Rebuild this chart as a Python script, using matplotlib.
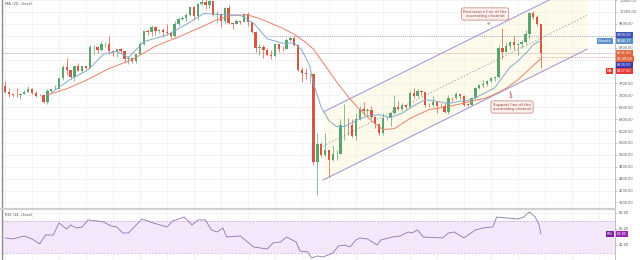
import numpy as np
import matplotlib.pyplot as plt
from matplotlib.lines import Line2D

# BTC daily candles, 23 Dec 2019 .. 10 May 2020
opens = [7520, 7322, 7255, 7204, 7202, 7254, 7317, 7422, 7293, 7194,
         7202, 6985, 7345, 7410, 7411, 7769, 8163, 8045, 7818, 8197,
         8020, 8185, 8110, 8810, 8821, 8720, 8913, 8916, 8701, 8658,
         8745, 8680, 8406, 8445, 8367, 8596, 8909, 9358, 9316, 9508,
         9350, 9392, 9344, 9293, 9180, 9613, 9758, 9804, 9895, 10152,
         9852, 10268, 10351, 10245, 10365, 9906, 9935, 9690, 10141, 9633,
         9608, 9687, 9664, 9925, 9651, 9316, 8786, 8807, 8710, 8564,
         8531, 8916, 8761, 8752, 9062, 9122, 8905, 8034, 7936, 7910,
         7912, 4970, 5563, 5201, 5361, 5015, 5226, 5239, 6191, 6198,
         6185, 5830, 6416, 6735, 6681, 6716, 6469, 6242, 5922, 6430,
         6438, 6606, 6793, 6733, 6867, 6791, 7271, 7176, 7335, 7302,
         6865, 6859, 6971, 6845, 6842, 6642, 7116, 7096, 7257, 7189,
         6881, 6880, 7117, 7429, 7550, 7569, 7679, 7795, 7807, 8801,
         8658, 8864, 8989, 8897, 8912, 9003, 9268, 9952, 9843, 9593]
highs = [7696, 7436, 7272, 7435, 7275, 7365, 7513, 7454, 7335, 7255,
         7212, 7413, 7428, 7544, 7782, 8207, 8455, 8062, 8200, 8286,
         8185, 8197, 8880, 8900, 8846, 9010, 9000, 9188, 8721, 8760,
         8790, 8685, 8516, 8450, 8600, 8980, 9370, 9420, 9560, 9520,
         9440, 9470, 9600, 9340, 9700, 9830, 9880, 9950, 10160, 10190,
         10300, 10440, 10500, 10390, 10380, 10050, 9960, 10170, 10250, 9650,
         9770, 9700, 9960, 9990, 9660, 9370, 8930, 8890, 8790, 8720,
         8940, 8930, 8850, 9140, 9170, 9190, 8910, 8150, 8130, 7940,
         7960, 5920, 5640, 5920, 5370, 5530, 5350, 6390, 6900, 6430,
         6390, 6590, 6830, 6970, 6770, 6840, 6500, 6260, 6600, 6520,
         6640, 7200, 7000, 6930, 6880, 7350, 7460, 7420, 7370, 7310,
         6950, 7190, 6980, 6940, 6930, 7200, 7150, 7300, 7260, 7220,
         6940, 7150, 7490, 7570, 7700, 7700, 7800, 7850, 8900, 9460,
         9000, 9010, 9190, 8950, 9060, 9400, 9990, 10040, 9910, 9600]
lows = [7267, 7157, 7129, 7153, 7072, 7238, 7303, 7255, 7140, 7175,
        6935, 6915, 7300, 7400, 7400, 7724, 7870, 7750, 7675, 8000,
        7968, 8079, 8105, 8580, 8612, 8682, 8810, 8576, 8520, 8490,
        8630, 8300, 8240, 8300, 8300, 8585, 8890, 9240, 9200, 9230,
        9310, 9150, 9230, 9110, 9170, 9540, 9730, 9690, 9880, 9740,
        9720, 10230, 10090, 10140, 9870, 9650, 9480, 9620, 9600, 9430,
        9580, 9590, 9650, 9540, 9280, 8660, 8540, 8450, 8550, 8420,
        8500, 8660, 8700, 8750, 9010, 8870, 8000, 7660, 7760, 7600,
        4860, 3850, 5120, 5170, 4450, 5000, 5030, 5230, 5700, 5860,
        5790, 5700, 6380, 6540, 6530, 6420, 6090, 5880, 5860, 6380,
        6160, 6580, 6690, 6680, 6700, 6780, 7120, 7150, 7210, 6790,
        6790, 6810, 6620, 6800, 6620, 6560, 7020, 7080, 7060, 6840,
        6830, 6860, 7030, 7410, 7470, 7500, 7660, 7690, 7780, 8420,
        8640, 8770, 8720, 8540, 8780, 8940, 9100, 9760, 9520, 8117]
closes = [7322, 7255, 7204, 7202, 7254, 7317, 7422, 7293, 7193, 7200,
          6985, 7345, 7410, 7411, 7769, 8163, 8045, 7818, 8197, 8020,
          8185, 8110, 8810, 8821, 8720, 8913, 8916, 8701, 8658, 8745,
          8680, 8406, 8445, 8367, 8596, 8909, 9358, 9316, 9508, 9350,
          9392, 9344, 9293, 9180, 9613, 9758, 9804, 9895, 10152, 9852,
          10268, 10351, 10245, 10365, 9906, 9935, 9690, 10141, 9633, 9608,
          9687, 9664, 9925, 9651, 9316, 8786, 8807, 8710, 8564, 8531,
          8916, 8761, 8752, 9062, 9122, 8905, 8034, 7936, 7910, 7912,
          4970, 5563, 5201, 5361, 5015, 5226, 5239, 6191, 6198, 6185,
          5830, 6416, 6735, 6681, 6716, 6469, 6242, 5922, 6430, 6438,
          6606, 6793, 6733, 6867, 6791, 7271, 7176, 7335, 7302, 6865,
          6859, 6971, 6845, 6842, 6642, 7116, 7096, 7257, 7189, 6881,
          6880, 7117, 7429, 7550, 7569, 7679, 7795, 7807, 8801, 8658,
          8864, 8989, 8897, 8912, 9003, 9268, 9952, 9843, 9593, 8631]

# MA(20) line, read at candle index
ma_idx = [11, 16, 21, 27, 33, 39, 45, 51, 55, 59, 63, 66, 69, 72, 75, 78, 80,
          83, 86, 89, 92, 95, 98, 101, 105, 110, 115, 120, 125, 128, 130,
          133, 135, 137, 139]
ma_val = [7210, 7420, 7700, 8100, 8400, 8850, 9160, 9500, 9740, 9890, 9900,
          9780, 9620, 9450, 9250, 8980, 8750, 8200, 7650, 7150, 6720, 6350,
          6050, 6080, 6420, 6720, 6820, 6970, 7120, 7300, 7440, 7720, 7960,
          8200, 8437.80]

# Chande line
ch_idx = [12, 16.5, 21.5, 25.5, 29, 32, 36, 42, 47.5, 51.5, 56, 61, 64.5, 68,
          72, 75, 77, 79, 80, 82, 84, 86, 88, 91, 94, 97, 100, 103, 106, 109,
          112, 115, 118, 121, 124, 127, 129, 131, 133, 135, 137, 139]
ch_val = [7280, 7700, 8050, 8580, 8680, 8470, 9000, 9230, 9620, 9950, 9920,
          9890, 9620, 9100, 8950, 8960, 8720, 8200, 7600, 6800, 6350, 6150,
          6150, 6350, 6500, 6550, 6450, 6600, 6850, 7050, 7000, 6920, 7000,
          7050, 7250, 7450, 7800, 8150, 8350, 8600, 8900, 9048.17]

# RSI(14)
rsi_idx = [0, 2, 5, 7, 9, 10.5, 12.5, 14, 16, 17, 18.5, 20, 21.5, 24, 25.5,
           27.5, 29, 30.5, 32, 35.5, 37, 38.5, 42, 43.5, 46.5, 48.5, 50, 52,
           53.5, 55, 56.5, 57.5, 61, 64.5, 68, 69.5, 71.5, 73, 75.5, 76.5,
           78.5, 79.5, 81, 82.5, 85, 86.5, 88, 89.5, 91, 92, 94, 96.5, 97.5,
           100.5, 102.5, 104.5, 105.5, 107, 108.5, 113.5, 115, 116.5, 119,
           122, 124, 126.5, 127.5, 130, 133, 134.5, 136, 137.5, 138.5, 139]
rsi_val = [48.8, 47.5, 51.3, 47.5, 41.3, 52.5, 52.5, 67.5, 60, 65, 61.3, 62.5,
           71.3, 70, 68.8, 63.8, 62.5, 55, 55, 72.5, 70, 67.5, 62.5, 70, 75,
           65, 71.3, 71.3, 58.8, 56.3, 61.3, 50, 51.3, 37.5, 35, 42.5, 43.8,
           50, 43.8, 32.5, 31.3, 23.8, 26.3, 25, 30, 38.8, 40, 37.5, 46.3,
           48.8, 47.5, 40, 46.3, 50, 51.3, 56.3, 55, 58.8, 50, 48.8, 55, 56.3,
           48.8, 58.8, 61.3, 62.5, 75, 73.8, 72.5, 75, 81.3, 75, 65, 53.85]

# ascending channel drawn on the chart
chan_x = [82.5, 150.9]
chan_top = [6639, 11032]
chan_bot = [4353, 8746]

# price axis labels hidden behind the value tags
price_ticks = list(range(3600, 10401, 400))
covered = [9200, 8400, 8000]

opens = np.array(opens); closes = np.array(closes)
highs = np.array(highs); lows = np.array(lows)
idx = np.arange(len(closes))

UP = '#5da36f'
DOWN = '#d35743'
W, H = 640, 260

fig = plt.figure(figsize=(6.4, 2.6), dpi=100)
ax = fig.add_axes([2 / W, 52 / H, 613 / W, 208 / H])
rax = fig.add_axes([2 / W, 0, 613 / W, 50 / H])

x0, x1 = -0.78, 158.2
ax.set_xlim(x0, x1)
ax.set_ylim(3412, 10403)
rax.set_xlim(x0, x1)
rax.set_ylim(21.25, 83.75)

for a in (ax, rax):
    a.set_xticks(np.arange(0, 158, 7))
    a.tick_params(axis='x', length=0, labelbottom=False)
    a.grid(True, color='#efefef', lw=0.5)
    a.set_axisbelow(True)
    a.yaxis.tick_right()
    a.tick_params(axis='y', labelsize=2.5, colors='#9a9a9a', labelcolor='#555555',
                  length=1.5, width=0.4, pad=1.5)
    a.spines['top'].set_visible(False)
    a.spines['bottom'].set_visible(False)
    a.spines['left'].set_color('#8c8c8c')
    a.spines['left'].set_linewidth(1.0)
    a.spines['right'].set_color('#b5b5b5')
    a.spines['right'].set_linewidth(0.6)

ax.set_yticks(price_ticks)
ax.set_yticklabels(['' if v in covered else '%.2f' % v for v in price_ticks])
rax.set_yticks([40, 60, 80])
rax.set_yticklabels(['40.00', '60.00', '80.00'])

# channel
cx = np.array(chan_x)
ax.fill_between(cx, chan_bot, chan_top, color='#fefbea', zorder=0.5, lw=0)
ax.plot(cx, chan_top, color='#9d8fd4', lw=0.7, zorder=2)
ax.plot(cx, chan_bot, color='#9d8fd4', lw=0.7, zorder=2)
ax.plot(cx, (np.array(chan_top) + np.array(chan_bot)) / 2, color='#a5a5a5',
        lw=0.6, ls=(0, (2, 2)), zorder=2)

# horizontal levels
ax.plot([68, x1], [9200, 9200], color='#8f93a8', lw=0.6, ls=(0, (1, 1.5)), zorder=2)
ax.axhline(8620, color='#e2c9c4', lw=0.6, zorder=1)
ax.plot([138, x1], [8500, 8500], color='#d98a70', lw=0.6, ls=(0, (1, 1.5)), zorder=2)

# candles
up = closes >= opens
col = np.where(up, UP, DOWN)
ax.vlines(idx, lows, highs, colors=col, lw=0.5, zorder=3)
body = np.maximum(np.abs(closes - opens), 15)
ax.bar(idx, body, bottom=np.minimum(opens, closes), width=0.62, color=col,
       lw=0, zorder=4)

# moving averages
ax.plot(ma_idx, ma_val, color='#e3836a', lw=0.7, zorder=5)
ax.plot(ch_idx, ch_val, color='#86aacd', lw=0.7, zorder=5)

# callouts
box = dict(boxstyle='round,pad=0.45,rounding_size=0.6', fc='#fcf1ef', ec='#c27a6e', lw=0.5)
arrow = dict(arrowstyle='wedge,tail_width=0.5,shrink_factor=0.5', fc='#fcf1ef',
             ec='#c27a6e', lw=0.5)
ax.annotate('Resistance line of the\nascending channel', xy=(125.8, 9496),
            xytext=(124.5, 9933), ha='center', va='center', fontsize=2.9,
            color='#99463a', bbox=box, arrowprops=arrow, zorder=8, linespacing=1.2)
ax.annotate('Support line of the\nascending channel', xy=(131.0, 7420),
            xytext=(131.5, 6807), ha='center', va='center', fontsize=2.9,
            color='#99463a', bbox=box, arrowprops=arrow, zorder=8, linespacing=1.2)

# RSI pane
rax.axhspan(30, 70, color='#f4e7fb', lw=0, zorder=0.5)
rax.axhline(70, color='#c8a8dc', lw=0.5, ls=(0, (3, 2)), zorder=1)
rax.axhline(30, color='#c8a8dc', lw=0.5, ls=(0, (3, 2)), zorder=1)
rax.plot(rsi_idx, rsi_val, color='#9071b2', lw=0.6, zorder=3)

# pane separator
fig.add_artist(Line2D([0, 615 / W], [1 - 209 / H, 1 - 209 / H], color='#cfcfcf', lw=1.5))

fig.text(5 / W, 1 - 4 / H, 'MA (20, close)', fontsize=2.7, color='#555555', va='center')
fig.text(5 / W, 1 - 215 / H, 'RSI (14, close)', fontsize=2.7, color='#555555', va='center')


def tag(xp, yp, s, fc):
    fig.text(xp / W, 1 - yp / H, s, fontsize=2.5, color='white', ha='left',
             va='center', bbox=dict(boxstyle='square,pad=0.3', fc=fc, ec='none'))


tag(617, 35, '9200.00', '#3f51b5')
tag(598, 41, 'Chande', '#5b93c9')
tag(617, 41, '%.2f' % ch_val[-1], '#5b93c9')
tag(617, 53, '%.2f' % closes[-1], '#e0673f')
tag(617, 59, '08:49:04', '#e0673f')
tag(617, 65, '8500.00', '#3b35b0')
tag(607, 71, 'MA', '#e53935')
tag(617, 71, '%.2f' % ma_val[-1], '#e53935')
tag(607, 234, 'RSI', '#7b1fa2')
tag(617, 234, '%.2f' % rsi_val[-1], '#9c27b0')

fig.savefig('out.png', dpi=100)
